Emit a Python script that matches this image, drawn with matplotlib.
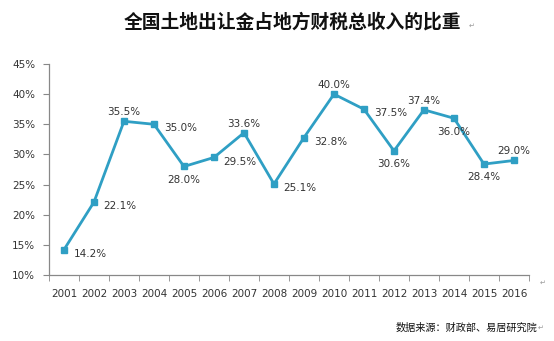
import matplotlib.pyplot as plt

plt.rcParams['font.family'] = ['Noto Sans CJK SC', 'DejaVu Sans']

years = ['2001', '2002', '2003', '2004', '2005', '2006', '2007', '2008',
         '2009', '2010', '2011', '2012', '2013', '2014', '2015', '2016']
share = [14.2, 22.1, 35.5, 35.0, 28.0, 29.5, 33.6, 25.1,
         32.8, 40.0, 37.5, 30.6, 37.4, 36.0, 28.4, 29.0]
# where each value label sits relative to its point
label_pos = ['right', 'right', 'above', 'right', 'below', 'right', 'above', 'right',
             'right', 'above', 'right', 'below', 'above', 'below', 'below', 'above']

line_color = '#2f9fc4'
text_color = '#333333'

fig = plt.figure(figsize=(5.54, 3.41), dpi=100)
ax = fig.add_axes([0.0884, 0.1935, 0.8664, 0.6188])

x = list(range(len(years)))
ax.plot(x, share, '-', color=line_color, lw=2.0, marker='s', ms=4,
        markerfacecolor=line_color, markeredgecolor=line_color)

for xi, v, pos in zip(x, share, label_pos):
    txt = '%.1f%%' % v
    if pos == 'right':
        ax.annotate(txt, (xi, v), xytext=(7, -3), textcoords='offset points',
                    ha='left', va='center', fontsize=7.5, color=text_color,
                    family='DejaVu Sans')
    elif pos == 'above':
        ax.annotate(txt, (xi, v), xytext=(0, 3), textcoords='offset points',
                    ha='center', va='bottom', fontsize=7.5, color=text_color,
                    family='DejaVu Sans')
    else:
        ax.annotate(txt, (xi, v), xytext=(0, -6), textcoords='offset points',
                    ha='center', va='top', fontsize=7.5, color=text_color,
                    family='DejaVu Sans')

ax.set_xlim(-0.5, len(years) - 0.5)
ax.set_ylim(10, 45)
ax.set_yticks(range(10, 50, 5))
ax.set_yticklabels(['%d%%' % t for t in range(10, 50, 5)], family='DejaVu Sans')
ax.set_xticks(x)
ax.set_xticklabels(years, family='DejaVu Sans')
ax.set_xticks([i - 0.5 for i in range(len(years) + 1)], minor=True)

ax.tick_params(axis='x', which='major', length=0, pad=10, labelsize=7.5,
               labelcolor=text_color)
ax.tick_params(axis='x', which='minor', length=4, direction='out', color='#888888')
ax.tick_params(axis='y', length=4, direction='out', color='#888888', labelsize=7.5,
               labelcolor=text_color, pad=6)

for s in ['top', 'right']:
    ax.spines[s].set_visible(False)
for s in ['left', 'bottom']:
    ax.spines[s].set_color('#888888')
    ax.spines[s].set_linewidth(0.9)

fig.text(0.528, 0.935, '全国土地出让金占地方财税总收入的比重', ha='center', va='center',
         fontsize=13.5, fontweight='bold', color='#111111')
fig.text(0.846, 0.925, '↵', ha='left', va='center', fontsize=5, color='#999999',
         family='DejaVu Sans')
fig.text(0.970, 0.04, '数据来源：财政部、易居研究院', ha='right', va='center',
         fontsize=7.3, color='#111111')
fig.text(0.970, 0.04, '↵', ha='left', va='center', fontsize=5, color='#999999',
         family='DejaVu Sans')
fig.text(0.98, 0.17, '↵', ha='center', va='center', fontsize=5, color='#999999',
         family='DejaVu Sans')

fig.savefig('out.png', dpi=100)
